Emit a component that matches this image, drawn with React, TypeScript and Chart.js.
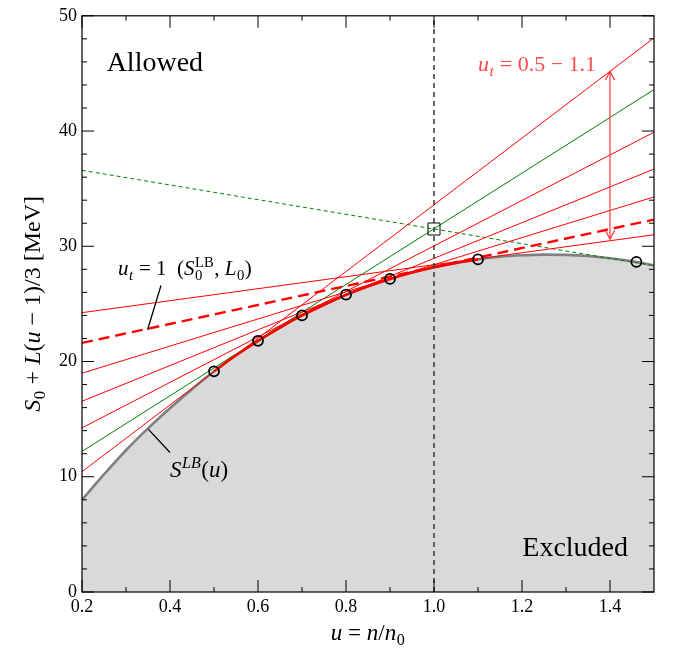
import React, { useEffect, useRef } from "react";
import { Chart, registerables } from "chart.js";

Chart.register(...registerables);

const FAMILY = "'Liberation Serif', 'DejaVu Serif', serif";

// Lower bound curve S^LB(u)
const curveU = [0.2, 0.25, 0.3, 0.35, 0.4, 0.45, 0.5, 0.55, 0.6, 0.65, 0.7, 0.75, 0.8, 0.85, 0.9, 0.95, 1.0, 1.05, 1.1, 1.15, 1.2, 1.25, 1.3, 1.35, 1.4, 1.45, 1.5];
const curveS = [8.0, 10.2, 12.3, 14.2, 15.95, 17.6, 19.15, 20.54, 21.8, 22.95, 24.0, 24.93, 25.78, 26.53, 27.17, 27.72, 28.18, 28.56, 28.86, 29.09, 29.22, 29.28, 29.25, 29.15, 28.96, 28.7, 28.35];

// Tangent lines S0 + L(u-1)/3 (red, u_t = 0.5 ... 1.1)
const redUt = [0.5, 0.7, 0.8, 0.9, 1.1];
const redS0 = [33.6, 30.03, 28.95, 28.4, 28.4];
const redL = [86.85, 59.2, 46.5, 35.3, 15.6];

// Reference tangent u_t = 1 (S0^LB, L0)
const refS0 = 28.2;
const refL = 24.7;

// Green tangents through the square point
const greenS0 = 31.52;
const greenL = 72.45;
const greenDashS0 = 31.5;
const greenDashL = -19.1;

// Tangent points
const markerU = [0.5, 0.6, 0.7, 0.8, 0.9, 1.1, 1.46];
const markerS = [19.15, 21.8, 24.0, 25.8, 27.17, 28.86, 28.64];
const squareU = [1.0];
const squareS = [31.5];

// Axes
const X_MIN = 0.2;
const X_MAX = 1.5;
const Y_MIN = 0;
const Y_MAX = 50;
const xMajorTicks = [0.2, 0.4, 0.6, 0.8, 1.0, 1.2, 1.4];
const xTickLabels = ["0.2", "0.4", "0.6", "0.8", "1.0", "1.2", "1.4"];
const xMinorTicks = [0.3, 0.5, 0.7, 0.9, 1.1, 1.3];
const yMajorTicks = [0, 10, 20, 30, 40, 50];
const yTickLabels = ["0", "10", "20", "30", "40", "50"];
const yMinorTicks = [2, 4, 6, 8, 12, 14, 16, 18, 22, 24, 26, 28, 32, 34, 36, 38, 42, 44, 46, 48];

type Seg = { t: string; it?: boolean; sub?: string; sup?: string; subIt?: boolean; supIt?: boolean };

function font(size: number, it?: boolean) {
  return `${it ? "italic " : ""}${size}px ${FAMILY}`;
}

function segWidth(ctx: CanvasRenderingContext2D, s: Seg, size: number) {
  ctx.font = font(size, s.it);
  let w = ctx.measureText(s.t).width;
  const ss = size * 0.7;
  let extra = 0;
  if (s.sub) {
    ctx.font = font(ss, s.subIt);
    extra = Math.max(extra, ctx.measureText(s.sub).width);
  }
  if (s.sup) {
    ctx.font = font(ss, s.supIt);
    extra = Math.max(extra, ctx.measureText(s.sup).width);
  }
  return w + extra + (extra ? 1 : 0);
}

function drawRich(ctx: CanvasRenderingContext2D, segs: Seg[], x: number, y: number, size: number, color: string, align: "left" | "center" | "right") {
  const total = segs.reduce((a, s) => a + segWidth(ctx, s, size), 0);
  let cx = align === "left" ? x : align === "center" ? x - total / 2 : x - total;
  ctx.fillStyle = color;
  ctx.textAlign = "left";
  ctx.textBaseline = "alphabetic";
  const ss = size * 0.7;
  for (const s of segs) {
    ctx.font = font(size, s.it);
    ctx.fillText(s.t, cx, y);
    let w = ctx.measureText(s.t).width;
    let extra = 0;
    if (s.sub) {
      ctx.font = font(ss, s.subIt);
      ctx.fillText(s.sub, cx + w + 0.5, y + size * 0.22);
      extra = Math.max(extra, ctx.measureText(s.sub).width);
    }
    if (s.sup) {
      ctx.font = font(ss, s.supIt);
      ctx.fillText(s.sup, cx + w + 0.5, y - size * 0.4);
      extra = Math.max(extra, ctx.measureText(s.sup).width);
    }
    cx += w + extra + (extra ? 1 : 0);
  }
}

function tangentLine(s0: number, L: number) {
  return [X_MIN, X_MAX].map((u) => ({ x: u, y: s0 + (L * (u - 1)) / 3 }));
}

const annotatePlugin = {
  id: "annotate",
  afterDatasetsDraw(chart: any) {
    const { ctx, chartArea: a } = chart;
    const xs = chart.scales.x;
    const ys = chart.scales.y;
    const px = (v: number) => xs.getPixelForValue(v);
    const py = (v: number) => ys.getPixelForValue(v);
    ctx.save();

    // frame
    ctx.strokeStyle = "#000";
    ctx.lineWidth = 1.2;
    ctx.strokeRect(a.left, a.top, a.right - a.left, a.bottom - a.top);

    // inward ticks on all sides
    ctx.lineWidth = 1;
    const vt = (v: number, len: number) => {
      const p = px(v);
      ctx.beginPath();
      ctx.moveTo(p, a.bottom);
      ctx.lineTo(p, a.bottom - len);
      ctx.moveTo(p, a.top);
      ctx.lineTo(p, a.top + len);
      ctx.stroke();
    };
    const ht = (v: number, len: number) => {
      const p = py(v);
      ctx.beginPath();
      ctx.moveTo(a.left, p);
      ctx.lineTo(a.left + len, p);
      ctx.moveTo(a.right, p);
      ctx.lineTo(a.right - len, p);
      ctx.stroke();
    };
    xMajorTicks.forEach((v) => vt(v, 12));
    xMinorTicks.forEach((v) => vt(v, 5));
    yMajorTicks.forEach((v) => ht(v, 12));
    yMinorTicks.forEach((v) => ht(v, 5));

    // leader lines
    ctx.strokeStyle = "#000";
    ctx.lineWidth = 1.3;
    ctx.beginPath();
    ctx.moveTo(px(0.3795), py(26.6));
    ctx.lineTo(px(0.349), py(22.76));
    ctx.moveTo(px(0.351), py(14.11));
    ctx.lineTo(px(0.4), py(12.1));
    ctx.stroke();

    // red double arrow
    const ax = px(1.4);
    const aTop = py(45.2);
    const aBot = py(30.6);
    ctx.strokeStyle = "#ff3b3b";
    ctx.lineWidth = 1.2;
    ctx.beginPath();
    ctx.moveTo(ax, aTop);
    ctx.lineTo(ax, aBot);
    ctx.moveTo(ax - 4.5, aTop + 9);
    ctx.lineTo(ax, aTop);
    ctx.lineTo(ax + 4.5, aTop + 9);
    ctx.moveTo(ax - 4.5, aBot - 9);
    ctx.lineTo(ax, aBot);
    ctx.lineTo(ax + 4.5, aBot - 9);
    ctx.stroke();

    // texts
    drawRich(ctx, [{ t: "Allowed" }], px(0.256), py(45.2), 28, "#000", "left");
    drawRich(ctx, [{ t: "Excluded" }], px(1.441), py(3.1), 28, "#000", "right");
    drawRich(
      ctx,
      [{ t: "u", it: true, sub: "t", subIt: true }, { t: " = 0.5 − 1.1" }],
      px(1.1),
      py(45.2),
      22,
      "#ff4a4a",
      "left"
    );
    drawRich(
      ctx,
      [
        { t: "u", it: true, sub: "t", subIt: true },
        { t: " = 1  (" },
        { t: "S", it: true, sub: "0", sup: "LB" },
        { t: ", " },
        { t: "L", it: true, sub: "0" },
        { t: ")" },
      ],
      px(0.282),
      py(27.5),
      21,
      "#000",
      "left"
    );
    drawRich(
      ctx,
      [{ t: "S", it: true, sup: "LB", supIt: true }, { t: "(" }, { t: "u", it: true }, { t: ")" }],
      px(0.4),
      py(10.0),
      23,
      "#000",
      "left"
    );

    // axis titles
    drawRich(
      ctx,
      [{ t: "u", it: true }, { t: " = " }, { t: "n", it: true }, { t: "/" }, { t: "n", it: true, sub: "0" }],
      (a.left + a.right) / 2,
      640,
      23,
      "#000",
      "center"
    );
    ctx.save();
    ctx.translate(40, (a.top + a.bottom) / 2);
    ctx.rotate(-Math.PI / 2);
    drawRich(
      ctx,
      [
        { t: "S", it: true, sub: "0" },
        { t: " + " },
        { t: "L", it: true },
        { t: "(" },
        { t: "u", it: true },
        { t: " − 1)/3 [MeV]" },
      ],
      0,
      0,
      24,
      "#000",
      "center"
    );
    ctx.restore();

    ctx.restore();
  },
};

export default function App() {
  const ref = useRef<HTMLCanvasElement>(null);

  useEffect(() => {
    const canvas = ref.current;
    if (!canvas) return;
    const curve = curveU.map((u, i) => ({ x: u, y: curveS[i] }));
    const envelope = curve.filter((p) => p.x >= 0.5 && p.x <= 1.1);
    const thin = { pointRadius: 0, fill: false, showLine: true, tension: 0 };

    const datasets: any[] = [
      {
        label: "markers",
        data: markerU.map((u, i) => ({ x: u, y: markerS[i] })),
        showLine: false,
        pointRadius: 5,
        pointStyle: "circle",
        pointBorderColor: "#000",
        pointBackgroundColor: "rgba(0,0,0,0)",
        pointBorderWidth: 1.8,
        order: 0,
      },
      {
        label: "square",
        data: squareU.map((u, i) => ({ x: u, y: squareS[i] })),
        showLine: false,
        pointRadius: 8.5,
        pointStyle: "rect",
        pointBorderColor: "#000",
        pointBackgroundColor: "rgba(0,0,0,0)",
        pointBorderWidth: 1,
        order: 0,
      },
      {
        label: "u=1",
        data: [
          { x: 1.0, y: Y_MIN },
          { x: 1.0, y: Y_MAX },
        ],
        ...thin,
        borderColor: "#333",
        borderWidth: 1.5,
        borderDash: [5, 4],
        order: 1,
      },
      {
        label: "envelope",
        data: envelope,
        ...thin,
        cubicInterpolationMode: "monotone",
        borderColor: "#ff0000",
        borderWidth: 2.6,
        order: 2,
      },
      ...redUt.map((ut, i) => ({
        label: `ut=${ut}`,
        data: tangentLine(redS0[i], redL[i]),
        ...thin,
        borderColor: "#ff0000",
        borderWidth: 1,
        order: 3,
      })),
      {
        label: "ut=1",
        data: tangentLine(refS0, refL),
        ...thin,
        borderColor: "#ff0000",
        borderWidth: 2.4,
        borderDash: [11, 6],
        order: 3,
      },
      {
        label: "green",
        data: tangentLine(greenS0, greenL),
        ...thin,
        borderColor: "#008000",
        borderWidth: 1,
        order: 3,
      },
      {
        label: "green dashed",
        data: tangentLine(greenDashS0, greenDashL),
        ...thin,
        borderColor: "#008000",
        borderWidth: 1,
        borderDash: [4, 3],
        order: 3,
      },
      {
        label: "SLB",
        data: curve,
        pointRadius: 0,
        showLine: true,
        cubicInterpolationMode: "monotone",
        borderColor: "#808080",
        borderWidth: 2.6,
        backgroundColor: "#d9d9d9",
        fill: "origin",
        order: 10,
      },
    ];

    const tickFont = { family: FAMILY, size: 18 };

    const chart = new Chart(canvas, {
      type: "line",
      data: { datasets },
      options: {
        animation: false,
        responsive: false,
        devicePixelRatio: 1,
        parsing: false as any,
        normalized: true,
        layout: { padding: { top: 12, right: 26, left: 0, bottom: 0 } },
        plugins: {
          legend: { display: false },
          tooltip: { enabled: false },
        },
        events: [],
        scales: {
          x: {
            type: "linear",
            min: X_MIN,
            max: X_MAX,
            afterBuildTicks: (s: any) => {
              s.ticks = xMajorTicks.map((v) => ({ value: v }));
            },
            afterFit: (s: any) => {
              s.height = 66;
            },
            ticks: {
              autoSkip: false,
              maxRotation: 0,
              padding: 4,
              color: "#000",
              font: tickFont,
              callback: (_v: any, i: number) => xTickLabels[i],
            },
            grid: { display: false, drawTicks: false },
            border: { display: false },
          },
          y: {
            type: "linear",
            min: Y_MIN,
            max: Y_MAX,
            afterBuildTicks: (s: any) => {
              s.ticks = yMajorTicks.map((v) => ({ value: v }));
            },
            afterFit: (s: any) => {
              s.width = 82;
            },
            ticks: {
              autoSkip: false,
              padding: 5,
              color: "#000",
              font: tickFont,
              callback: (_v: any, i: number) => yTickLabels[i],
            },
            grid: { display: false, drawTicks: false },
            border: { display: false },
          },
        },
      },
      plugins: [annotatePlugin],
    } as any);

    return () => chart.destroy();
  }, []);

  return (
    <div style={{ position: "absolute", left: 0, top: 0, width: 680, height: 658, background: "#fff" }}>
      <canvas ref={ref} width={680} height={658} style={{ display: "block" }} />
    </div>
  );
}
